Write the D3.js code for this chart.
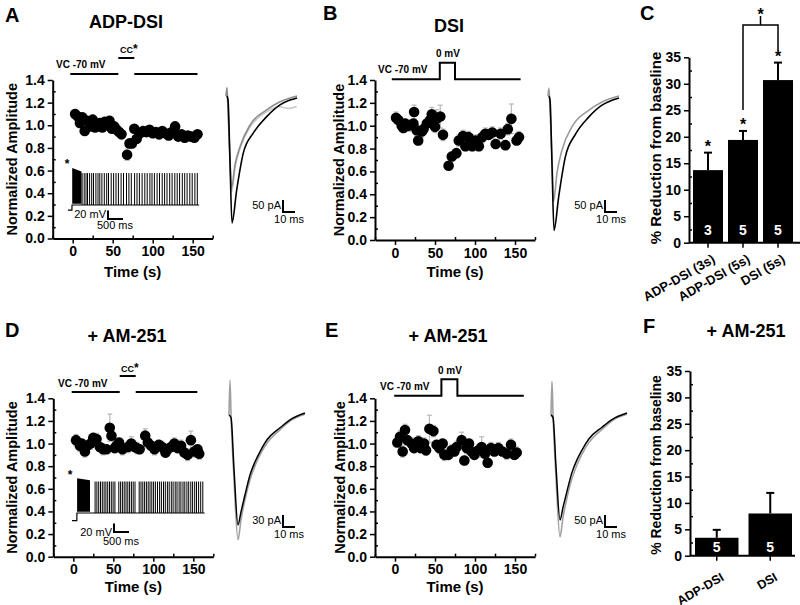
<!DOCTYPE html>
<html>
<head>
<meta charset="utf-8">
<script src="https://cdn.jsdelivr.net/npm/d3@7"></script>
<style>
  body { margin: 0; background: #fff; }
  text { font-family: "Liberation Sans", Arial, sans-serif; }
</style>
</head>
<body>
<script>

// ---- time course data (time in s, normalized amplitude, SEM) ----
var timeA = [3,6,9,12,15,18,22,25,28,31,34,37,40,43,46,49,52,55,58,61,68,71,74,77,80,84,88,92,96,100,104,108,112,116,120,124,128,132,136,140,144,148,152,156];
var ampA  = [1.10,1.08,1.02,1.07,0.95,1.04,0.99,1.05,0.98,1.00,1.02,0.98,1.03,1.01,1.04,0.97,0.99,0.96,0.94,0.92,0.74,0.84,0.84,0.97,0.88,0.93,0.95,0.94,0.96,0.93,0.94,0.92,0.95,0.93,0.91,0.94,0.99,0.90,0.92,0.89,0.91,0.90,0.89,0.92];
var errA  = [0.04,0.03,0.04,0.04,0.03,0.04,0.03,0.04,0.03,0.03,0.04,0.03,0.04,0.03,0.04,0.03,0.03,0.04,0.03,0.03,0.05,0.03,0.04,0.03,0.04,0.03,0.04,0.03,0.03,0.04,0.03,0.04,0.03,0.03,0.04,0.03,0.04,0.03,0.03,0.04,0.03,0.04,0.03,0.03];

var timeB = [1.3,4.2,8.4,10.5,12.6,16.8,23,23.9,27,29,33.5,35.6,39.8,44,46,50,52,56.6,60,67,71,76.7,79.7,85,88,92,96.5,100.6,104.8,109,113,117,121.6,125.8,132,138,141,145.5,152,155];
var ampB  = [1.07,1.05,1.0,0.98,1.02,1.0,1.02,1.12,0.96,0.87,0.95,0.97,1.02,1.05,1.1,0.99,1.06,1.08,0.92,0.65,0.73,0.76,0.87,0.91,0.82,0.9,0.82,0.87,0.82,0.9,0.93,0.92,0.94,0.84,0.93,0.83,0.97,1.06,0.87,0.9];
var errB  = [0.05,0.04,0.05,0.04,0.04,0.05,0.04,0.06,0.05,0.04,0.05,0.04,0.05,0.05,0.06,0.05,0.08,0.10,0.05,0.03,0.04,0.04,0.05,0.05,0.04,0.05,0.04,0.05,0.04,0.05,0.05,0.04,0.05,0.04,0.05,0.04,0.05,0.13,0.04,0.05];

var timeD = [3.4,8.3,10.4,14.5,17.4,21.6,24.9,29,33.2,37.3,41.5,45.6,47.7,51.8,53.9,57.2,61.4,68.3,72.5,76.6,79.5,82.9,89.9,93.2,97.4,101.5,106.9,111,115.2,118,122.2,126.3,130.4,134.7,138.8,142.9,147,151.2,155.3,157.4];
var ampD  = [1.03,0.98,1.0,0.93,0.98,1.0,1.05,1.04,0.97,0.95,0.95,1.14,1.07,0.96,0.98,1.01,0.95,0.97,1.0,0.97,0.96,0.95,1.07,1.01,0.98,0.95,0.99,0.97,0.92,0.95,0.97,1.0,0.96,0.98,0.92,0.90,1.03,0.93,0.95,0.91];
var errD  = [0.05,0.05,0.04,0.05,0.04,0.05,0.04,0.05,0.04,0.05,0.04,0.12,0.05,0.04,0.05,0.04,0.05,0.05,0.06,0.04,0.05,0.04,0.06,0.05,0.04,0.05,0.04,0.05,0.04,0.05,0.04,0.05,0.04,0.05,0.04,0.05,0.08,0.05,0.04,0.05];

var timeE = [2.9,6.2,9.6,12.5,15.4,20.8,23.8,29.2,32,36.3,38.8,43,48,52,55.4,59.6,61.7,66.7,70.8,74.2,77,83.3,86.7,89.6,92.5,95.8,99.2,104.2,108.3,112.5,115.8,120,124.2,129.2,134.2,139.6,145,149.2,152.1];
var ampE  = [1.01,1.06,0.93,1.12,1.03,1.0,0.96,1.02,0.96,1.0,0.94,1.13,1.11,0.99,0.96,1.0,0.90,0.90,0.94,0.93,0.97,1.03,0.85,0.96,1.0,0.93,0.90,0.94,0.97,0.91,0.83,0.96,0.93,0.96,0.93,0.91,0.99,0.90,0.92];
var errE  = [0.04,0.05,0.05,0.05,0.04,0.05,0.04,0.05,0.04,0.05,0.04,0.12,0.05,0.04,0.05,0.04,0.05,0.04,0.05,0.04,0.05,0.07,0.04,0.05,0.04,0.05,0.04,0.05,0.09,0.04,0.04,0.05,0.04,0.05,0.04,0.05,0.05,0.04,0.05];

var yTicks = [0.0,0.2,0.4,0.6,0.8,1.0,1.2,1.4];
var yMinor = [0.1,0.3,0.5,0.7,0.9,1.1,1.3];
var xTicks = [0,50,100,150];
var xMinor = [-25,25,75,125,175];

// protocol (time in s, level 0 = VC -70 mV, 1 = CC / 0 mV)
var protA = [[-3,57,0],[57,77,1],[77,156,0]];
var protD = [[-2,58,0],[58,78,1],[78,155,0]];
var stepB = [[-4,0],[56,0],[56,1],[75,1],[75,0],[157,0]];
var stepE = [[-1,0],[58,0],[58,1],[78,1],[78,0],[161,0]];

// ---- current-clamp insets (ms, mV) ----
var spikesA = [470,540,600,650,720,790,850,930,1000,1060,1130,1210,1290,1350,1440,1520,1600,1680,1770,1850,1950,2030,2110,2220,2300,2380,2470,2560,2640,2730,2800,2880,2970,3050,3140,3220,3300,3390,3470,3560,3640,3720,3810,3890,3970,4060,4140,4230,4310];
var spikesD = [770,830,890,950,1010,1070,1130,1190,1250,1310,1370,1430,1560,1620,1680,1740,1800,1860,1920,1980,2040,2100,2240,2300,2360,2420,2480,2540,2600,2660,2720,2780,2850,2920,2980,3050,3110,3180,3240,3310,3370,3440,3500,3570,3630,3700,3760,3830,3890,3960,4020,4090,4150,4220,4290,4360];
var burstA = [140,450], burstTopA = [28,20], restA = -72, peakA = 16;
var burstD = [170,600], burstTopD = [23,18], restD = -78, peakD = 15;

// ---- EPSC traces (ms, pA) ----
var epscA_light = [[0.4,0],[0.8,36],[1.2,0],[3.3,-250],[4.8,-400],[7.5,-300],[12,-215],[20,-130],[34,-66],[45,-45],[52,-52],[59,-44]];
var epscA_gray  = [[0,0],[0.8,33],[1.7,-58],[3.3,-267],[4.6,-383],[7.5,-287],[11.7,-211],[20,-121],[33.9,-58],[45,-24],[59.2,0]];
var epscA_black = [[0.8,0],[1.7,-17],[3.3,-267],[5,-529],[8.9,-392],[14.4,-238],[22.8,-154],[33.9,-86],[45,-37],[53.3,-17],[59.2,-8]];
var epscB_gray  = [[0,0],[0.8,33],[1.7,-58],[3.3,-250],[4.6,-440],[7.5,-320],[11.7,-225],[20,-128],[33.9,-60],[45,-25],[59.2,0]];
var epscB_black = [[0.8,0],[1.7,-17],[3.3,-280],[5,-560],[8.9,-420],[14.4,-255],[22.8,-160],[33.9,-88],[45,-38],[53.3,-18],[59.2,-8]];
var epscD_gray  = [[0,0],[0.8,87],[1.7,0],[4.2,-162],[7.5,-312],[10,-262],[13.3,-212],[17.5,-162],[21.7,-127],[25.8,-100],[31.7,-70],[42.5,-37],[50.8,-15],[63.3,2]];
var epscD_black = [[0,0],[1.7,-7],[4.2,-137],[7.5,-275],[10,-242],[13.3,-200],[17.5,-150],[21.7,-117],[25.8,-92],[31.7,-62],[42.5,-32],[50.8,-12],[63.3,5]];
var epscE_gray  = [[0,0],[0.8,140],[1.7,0],[4.2,-264],[7.5,-508],[10,-427],[13.3,-345],[17.5,-264],[21.7,-207],[25.8,-163],[31.7,-114],[42.5,-60],[50.8,-24],[63.3,3]];
var epscE_black = [[0,0],[1.7,-11],[4.2,-218],[7.5,-437],[10,-385],[13.3,-318],[17.5,-239],[21.7,-186],[25.8,-146],[31.7,-99],[42.5,-51],[50.8,-19],[63.3,8]];

// ---- bar charts ----
var catsC = ["ADP-DSI (3s)","ADP-DSI (5s)","DSI (5s)"];
var valsC = [13.7,19.4,30.7];
var semC  = [3.3,1.7,3.3];
var nC    = [3,5,5];
var catsF = ["ADP-DSI","DSI"];
var valsF = [3.4,8.0];
var semF  = [1.5,3.9];
var nF    = [5,5];
var barTicks = [0,5,10,15,20,25,30,35];
var barMinor = [2.5,7.5,12.5,17.5,22.5,27.5,32.5];

var svg = d3.select("body").append("svg").attr("width", 800).attr("height", 605);

function txt(x, y, s, size, weight, anchor) {
  return svg.append("text").attr("x", x).attr("y", y).text(s)
    .attr("font-size", size).attr("font-weight", weight || "bold")
    .attr("text-anchor", anchor || "start");
}

function styleAxis(a, fs) {
  a.select(".domain").attr("stroke-width", 2);
  a.selectAll(".tick line").attr("stroke-width", 1.5);
  a.selectAll("text").attr("font-size", fs).attr("font-weight", "bold")
    .attr("font-family", "Liberation Sans, Arial, sans-serif").attr("fill", "#000");
}

function timeCourse(p) {
  var x = d3.scaleLinear().domain([-25, 175]).range([p.xl, p.xl + 160]);
  var y = d3.scaleLinear().domain([0, 1.4]).range([p.yb, p.yt]);
  var g = svg.append("g");

  var ya = g.append("g").attr("transform", "translate(" + p.xl + ",0)")
    .call(d3.axisLeft(y).tickValues(yTicks).tickFormat(d3.format(".1f")).tickSize(5).tickPadding(3).tickSizeOuter(0));
  styleAxis(ya, 14);
  g.append("g").attr("transform", "translate(" + p.xl + ",0)")
    .call(d3.axisLeft(y).tickValues(yMinor).tickFormat("").tickSize(-3).tickSizeOuter(0))
    .call(function(a) { a.select(".domain").remove(); a.selectAll("line").attr("stroke-width", 1.5); });

  var xa = g.append("g").attr("transform", "translate(0," + p.yb + ")")
    .call(d3.axisBottom(x).tickValues(xTicks).tickSize(5).tickPadding(p.xpad).tickSizeOuter(0));
  styleAxis(xa, 14);
  g.append("g").attr("transform", "translate(0," + p.yb + ")")
    .call(d3.axisBottom(x).tickValues(xMinor).tickFormat("").tickSize(-3).tickSizeOuter(0))
    .call(function(a) { a.select(".domain").remove(); a.selectAll("line").attr("stroke-width", 1.5); });

  g.append("text").attr("transform", "translate(" + p.ylabX + "," + ((p.yt + p.yb) / 2) + ") rotate(-90)")
    .attr("text-anchor", "middle").attr("font-size", 14.5).attr("font-weight", "bold").text("Normalized Amplitude");
  g.append("text").attr("x", (p.xl + p.xl + 160) / 2).attr("y", p.xlabY)
    .attr("text-anchor", "middle").attr("font-size", 15).attr("font-weight", "bold").text("Time (s)");

  var pts = p.t.map(function(t, i) { return { t: t, v: p.v[i], e: p.e[i] }; });
  var eb = g.append("g").attr("stroke", "#bdbdbd").attr("stroke-width", 1.3);
  pts.forEach(function(d) {
    var cx = x(d.t), y1 = y(d.v + d.e), y2 = y(d.v - d.e);
    eb.append("line").attr("x1", cx).attr("x2", cx).attr("y1", y1).attr("y2", y2);
    eb.append("line").attr("x1", cx - 2.5).attr("x2", cx + 2.5).attr("y1", y1).attr("y2", y1);
    eb.append("line").attr("x1", cx - 2.5).attr("x2", cx + 2.5).attr("y1", y2).attr("y2", y2);
  });
  g.append("g").selectAll("circle").data(pts).enter().append("circle")
    .attr("cx", function(d) { return x(d.t); })
    .attr("cy", function(d) { return y(d.v); })
    .attr("r", 5.3).attr("fill", "#000");
  return x;
}

function protocolBars(x, segs, yVC, yCC) {
  segs.forEach(function(s) {
    var yy = s[2] ? yCC : yVC;
    svg.append("line").attr("x1", x(s[0])).attr("x2", x(s[1])).attr("y1", yy).attr("y2", yy)
      .attr("stroke", "#000").attr("stroke-width", 2);
  });
}

function protocolStep(x, pts, yVC, yUp) {
  var line = d3.line().x(function(d) { return x(d[0]); }).y(function(d) { return d[1] ? yUp : yVC; });
  svg.append("path").attr("d", line(pts)).attr("fill", "none").attr("stroke", "#000").attr("stroke-width", 2);
}

function ccInset(o) {
  var sx = d3.scaleLinear().domain([0, 500]).range([o.x0, o.x0 + 15]);
  var sy = d3.scaleLinear().domain([-60, 20]).range([o.base, o.base - 33.6]);
  var g = svg.append("g").attr("stroke", "#000").attr("fill", "none");
  var last = o.spikes[o.spikes.length - 1] + 60;
  var base = d3.line().x(function(d) { return sx(d[0]); }).y(function(d) { return sy(d[1]); });
  g.append("path").attr("stroke-width", 1.2)
    .attr("d", base([[0, o.rest], [o.burst[0] - 10, o.rest], [o.burst[0] - 5, -60], [last, -60]]));
  var area = d3.area().x(function(d) { return sx(d[0]); }).y0(sy(-57)).y1(function(d) { return sy(d[1]); });
  g.append("path").attr("fill", "#000").attr("stroke", "none")
    .attr("d", area([[o.burst[0], o.burstTop[0]], [o.burst[1], o.burstTop[1]]]));
  g.selectAll("line.sp").data(o.spikes).enter().append("line")
    .attr("x1", function(d) { return sx(d); }).attr("x2", function(d) { return sx(d); })
    .attr("y1", sy(-60)).attr("y2", sy(o.peak)).attr("stroke-width", 1);
  // scale bar 20 mV / 500 ms
  var c = o.bar;
  g.append("path").attr("stroke-width", 2)
    .attr("d", "M" + c[0] + "," + (c[1] - (sy(-60) - sy(-40))) + "V" + c[1] + "H" + (c[0] + sx(500) - sx(0)));
  txt(c[0] - 2, c[1] + o.mvDy, "20 mV", 11, "normal", "end");
  txt(c[0] + 7, c[1] + o.msDy, "500 ms", 11, "normal", "middle");
  txt(o.starX, o.starY, "*", 12, "bold", "middle");
}

function epsc(o) {
  var sx = d3.scaleLinear().domain([0, 10]).range([o.x0, o.x0 + 12]);
  var sy = d3.scaleLinear().domain([0, -50]).range([o.y0, o.y0 + o.pxPer50]);
  var line = d3.line().curve(d3.curveMonotoneX)
    .x(function(d) { return sx(d[0]); }).y(function(d) { return sy(d[1]); });
  o.traces.forEach(function(tr) {
    svg.append("path").attr("d", line(tr.d)).attr("fill", "none")
      .attr("stroke", tr.c).attr("stroke-width", tr.w);
  });
  var c = o.bar;
  var h = sy(-o.pa) - sy(0);
  svg.append("path").attr("fill", "none").attr("stroke", "#000").attr("stroke-width", 2)
    .attr("d", "M" + c[0] + "," + (c[1] - h) + "V" + c[1] + "H" + (c[0] + sx(10) - sx(0)));
  txt(c[0] - 2, c[1] - 3, o.pa + " pA", 11, "normal", "end");
  txt(c[0] + 6, c[1] + 11, "10 ms", 11, "normal", "middle");
}

function barChart(p) {
  var x = d3.scaleBand().domain(p.cats).range([p.xl, p.xr]).paddingInner(p.pi).paddingOuter(p.po);
  var y = d3.scaleLinear().domain([0, 35]).range([p.yb, p.yt]);
  var g = svg.append("g");
  var ya = g.append("g").attr("transform", "translate(" + p.xl + ",0)")
    .call(d3.axisLeft(y).tickValues(barTicks).tickSize(5).tickPadding(3).tickSizeOuter(0));
  styleAxis(ya, 14);
  g.append("g").attr("transform", "translate(" + p.xl + ",0)")
    .call(d3.axisLeft(y).tickValues(barMinor).tickFormat("").tickSize(-3).tickSizeOuter(0))
    .call(function(a) { a.select(".domain").remove(); a.selectAll("line").attr("stroke-width", 1.5); });
  var xa = g.append("g").attr("transform", "translate(0," + p.yb + ")")
    .call(d3.axisBottom(x).tickSize(5).tickFormat("").tickSizeOuter(0));
  xa.select(".domain").remove();
  xa.selectAll("line").attr("stroke-width", 1.5);
  g.append("line").attr("x1", p.xl).attr("x2", p.xend).attr("y1", p.yb).attr("y2", p.yb)
    .attr("stroke", "#000").attr("stroke-width", 2);

  p.cats.forEach(function(c, i) {
    var cx = x(c) + x.bandwidth() / 2;
    var top = y(p.vals[i] + p.sem[i]);
    g.append("line").attr("x1", cx).attr("x2", cx).attr("y1", y(p.vals[i])).attr("y2", top)
      .attr("stroke", "#000").attr("stroke-width", 2);
    g.append("line").attr("x1", cx - 4).attr("x2", cx + 4).attr("y1", top).attr("y2", top)
      .attr("stroke", "#000").attr("stroke-width", 2);
  });
  g.selectAll("rect").data(p.cats).enter().append("rect")
    .attr("x", function(d) { return x(d); })
    .attr("width", x.bandwidth())
    .attr("y", function(d, i) { return y(p.vals[i]); })
    .attr("height", function(d, i) { return y(0) - y(p.vals[i]); })
    .attr("fill", "#000");
  p.cats.forEach(function(c, i) {
    var cx = x(c) + x.bandwidth() / 2;
    g.append("text").attr("x", cx).attr("y", p.yb - p.nDy).attr("text-anchor", "middle")
      .attr("fill", "#fff").attr("font-size", 14).attr("font-weight", "bold").text(p.n[i]);
    g.append("text").attr("transform", "translate(" + (cx + p.labDx) + "," + (p.yb + p.labDy) + ") rotate(-30)")
      .attr("text-anchor", "end").attr("font-size", p.labFs).attr("font-weight", "bold").text(c);
    if (p.stars) {
      g.append("text").attr("x", cx).attr("y", y(p.vals[i] + p.sem[i]) - 1).attr("text-anchor", "middle")
        .attr("font-size", 16).attr("font-weight", "bold").text("*");
    }
  });
  g.append("text").attr("transform", "translate(" + p.ylabX + "," + p.ylabY + ") rotate(-90)")
    .attr("text-anchor", "middle").attr("font-size", p.ylabFs).attr("font-weight", "bold")
    .text("% Reduction from baseline");
  return { x: x, y: y };
}

// ---------- panel letters and titles ----------
txt(5, 22, "A", 20); txt(126, 28, "ADP-DSI", 18, "bold", "middle");
txt(323, 20, "B", 20); txt(449, 32, "DSI", 18, "bold", "middle");
txt(640, 20, "C", 20);
txt(5, 337, "D", 20); txt(127, 342, "+ AM-251", 18, "bold", "middle");
txt(325, 337, "E", 20); txt(448, 342, "+ AM-251", 18, "bold", "middle");
txt(643, 333, "F", 20); txt(746, 337, "+ AM-251", 18, "bold", "middle");

// ---------- A ----------
var xA = timeCourse({ xl: 52.7, yt: 80, yb: 238.5, t: timeA, v: ampA, e: errA, ylabX: 16.5, xlabY: 277, xpad: 3 });
protocolBars(xA, protA, 74, 58);
txt(56, 68, "VC -70 mV", 10);
var ccA = txt(120, 53, "CC", 9); ccA.append("tspan").attr("font-size", 12).text("*");
ccInset({ x0: 68, base: 205, rest: restA, burst: burstA, burstTop: burstTopA, spikes: spikesA, peak: peakA,
          bar: [108, 219], mvDy: -1, msDy: 10, starX: 67, starY: 168 });
epsc({ x0: 226, y0: 96, pxPer50: 12, pa: 50, bar: [283, 212],
       traces: [{ d: epscA_light, c: "#c8c8c8", w: 1.5 }, { d: epscA_gray, c: "#8c8c8c", w: 1.6 }, { d: epscA_black, c: "#000", w: 1.6 }] });

// ---------- B ----------
var xB = timeCourse({ xl: 375, yt: 80, yb: 240, t: timeB, v: ampB, e: errB, ylabX: 344, xlabY: 277, xpad: 3 });
protocolStep(xB, stepB, 79.3, 62.7);
txt(378, 73, "VC -70 mV", 10);
txt(436, 57, "0 mV", 10);
epsc({ x0: 548, y0: 96, pxPer50: 12, pa: 50, bar: [605, 212],
       traces: [{ d: epscB_gray, c: "#9a9a9a", w: 1.6 }, { d: epscB_black, c: "#000", w: 1.6 }] });

// ---------- C ----------
var C = barChart({ cats: catsC, vals: valsC, sem: semC, n: nC, xl: 689, xr: 797, xend: 800, pi: 0.143, po: 0.114,
                   yt: 57.3, yb: 242.7, nDy: 7.7, labDx: 8, labDy: 19, labFs: 13, stars: true, ylabX: 661, ylabY: 148, ylabFs: 15 });
(function() {
  var x2 = C.x(catsC[1]) + C.x.bandwidth() / 2, x3 = C.x(catsC[2]) + C.x.bandwidth() / 2;
  var l2 = C.y(valsC[1] + semC[1]) - 21, l3 = C.y(valsC[2] + semC[2]) - 12, top = 25;
  svg.append("path").attr("fill", "none").attr("stroke", "#000").attr("stroke-width", 1.5)
    .attr("d", "M" + x2 + "," + l2 + "V" + top + "H" + x3 + "V" + l3 + "M" + ((x2 + x3) / 2) + "," + top + "V" + (top - 9));
  txt((x2 + x3) / 2, 20, "*", 16, "bold", "middle");
})();

// ---------- D ----------
var xD = timeCourse({ xl: 53.3, yt: 398.3, yb: 556.7, t: timeD, v: ampD, e: errD, ylabX: 17, xlabY: 592, xpad: 2 });
protocolBars(xD, protD, 392, 376);
txt(58, 387, "VC -70 mV", 10);
var ccD = txt(121, 372, "CC", 9); ccD.append("tspan").attr("font-size", 12).text("*");
ccInset({ x0: 72, base: 513, rest: restD, burst: burstD, burstTop: burstTopD, spikes: spikesD, peak: peakD,
          bar: [114, 532], mvDy: 4, msDy: 13, starX: 70, starY: 479 });
epsc({ x0: 229, y0: 415, pxPer50: 20, pa: 30, bar: [283, 527],
       traces: [{ d: epscD_gray, c: "#a0a0a0", w: 1.6 }, { d: epscD_black, c: "#000", w: 1.5 }] });

// ---------- E ----------
var xE = timeCourse({ xl: 375, yt: 398.3, yb: 556.7, t: timeE, v: ampE, e: errE, ylabX: 345, xlabY: 592, xpad: 2 });
protocolStep(xE, stepE, 395.7, 379.3);
txt(380, 390, "VC -70 mV", 10);
txt(438, 374, "0 mV", 10);
epsc({ x0: 551, y0: 415, pxPer50: 12, pa: 50, bar: [605, 527],
       traces: [{ d: epscE_gray, c: "#a0a0a0", w: 1.6 }, { d: epscE_black, c: "#000", w: 1.5 }] });

// ---------- F ----------
barChart({ cats: catsF, vals: valsF, sem: semF, n: nF, xl: 690, xr: 797, xend: 795, pi: 0.187, po: 0.0935,
           yt: 371, yb: 555.7, nDy: 3.5, labDx: 8, labDy: 24, labFs: 12.5, stars: false, ylabX: 661, ylabY: 465, ylabFs: 14 });

</script>
</body>
</html>
